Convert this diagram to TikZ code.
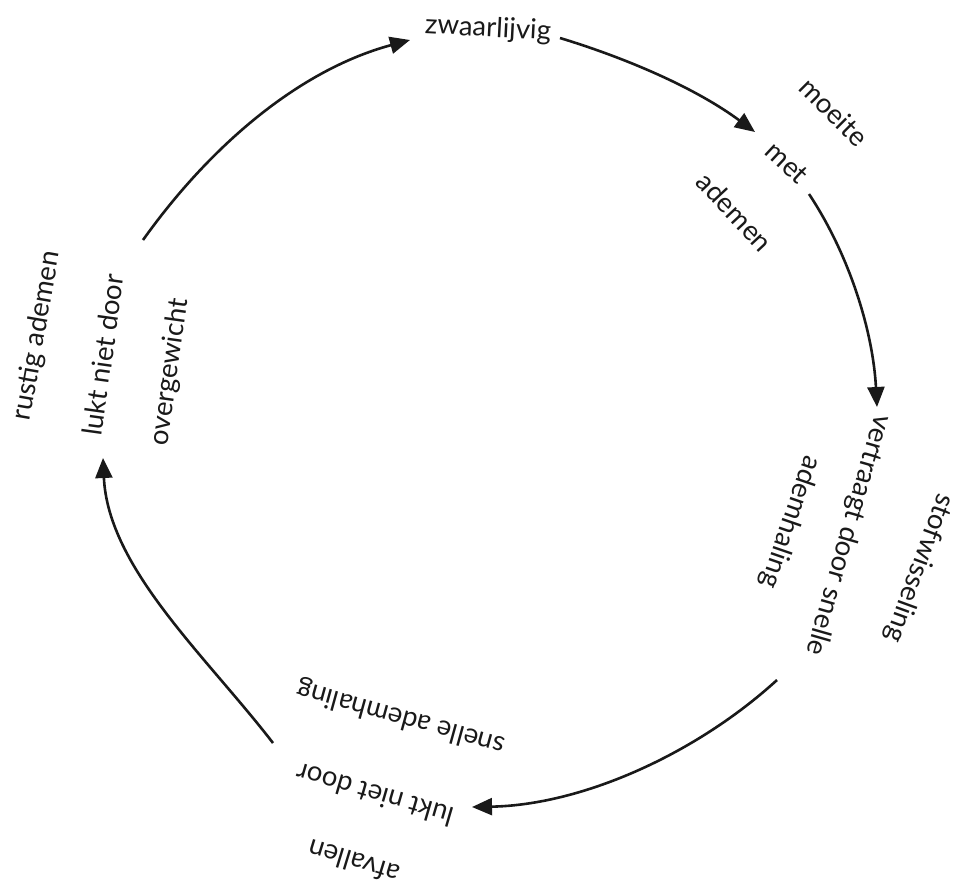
\documentclass[tikz,border=0pt]{standalone}
\usepackage{fontspec}
\setmainfont{Lato}
\usetikzlibrary{arrows.meta}
\begin{document}
\begin{tikzpicture}[x=1pt,y=-1pt,
  lbl/.style={inner sep=0pt, text=black!90, font=\fontsize{27.5}{32}\selectfont},
  arr/.style={line width=2.6pt, black!90, -{Triangle[length=20pt,width=17pt]}}]
\useasboundingbox (0,0) rectangle (957,889);
% top
\node[lbl, rotate=-3] (zw) at (488,29) {zwaarlijvig};
% upper right
\node[lbl, rotate=-45] (moeite) at (834,112) {moeite};
\node[lbl, rotate=-43] (met) at (787,163) {met};
\node[lbl, rotate=-47] (ademen) at (735,212) {ademen};
% right
\node[lbl, rotate=-110] (stof) at (919,568) {stofwisseling};
\node[lbl, rotate=-106] (vert) at (848,535) {vertraagt door snelle};
\node[lbl, rotate=-109] (adh) at (790,522) {ademhaling};
% bottom
\node[lbl, rotate=164.5] (snel) at (401,717) {snelle ademhaling};
\node[lbl, rotate=163.7] (lukb) at (375,795) {lukt niet door};
\node[lbl, rotate=163] (afv) at (354,862) {afvallen};
% left
\node[lbl, rotate=80] (rust) at (37,336) {rustig ademen};
\node[lbl, rotate=82] (lukl) at (103,355) {lukt niet door};
\node[lbl, rotate=82] (over) at (170,372) {overgewicht};
% arrow ends
\coordinate (a1s) at (143,240); \coordinate (a1e) at (410,40);
\coordinate (a2s) at (560,38);  \coordinate (a2e) at (755,132);
\coordinate (a3s) at (809,194); \coordinate (a3e) at (877,407);
\coordinate (a4s) at (777,680); \coordinate (a4e) at (472,807);
\coordinate (a5s) at (273,743); \coordinate (a5e) at (103,458);
\draw[arr] (a1s) .. controls +(67,-94) and +(-111,30) .. (a1e);
\draw[arr] (a2s) .. controls +(69,21) and +(-58,-43) .. (a2e);
\draw[arr] (a3s) .. controls +(41,62) and +(-4,-75) .. (a3e);
\draw[arr] (a4s) .. controls +(-81,74) and +(110,-2) .. (a4e);
\draw[arr] (a5s) .. controls +(-67,-87) and +(5,110) .. (a5e);
\end{tikzpicture}
\end{document}
